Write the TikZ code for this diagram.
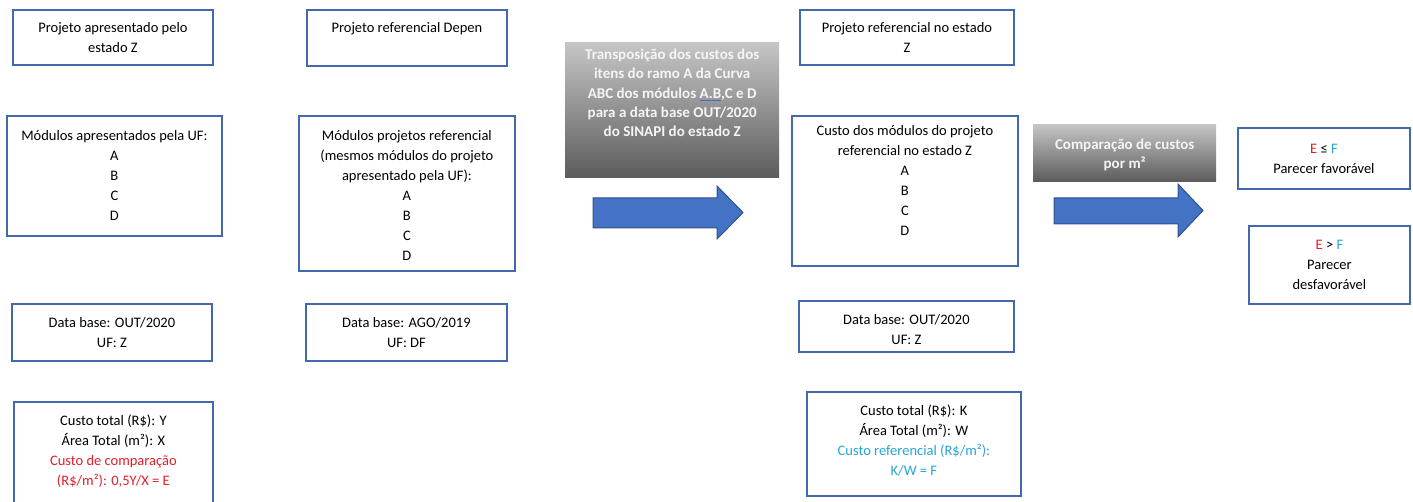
\documentclass[tikz,border=0pt]{standalone}
\usepackage{fontspec}
\setmainfont{Carlito}
\definecolor{boxblue}{RGB}{68,104,172}
\definecolor{arrowfill}{RGB}{68,114,196}
\definecolor{arrowline}{RGB}{47,82,143}
\definecolor{txtred}{RGB}{230,30,40}
\definecolor{txtcyan}{RGB}{40,165,215}
\definecolor{grayhi}{RGB}{198,198,198}
\definecolor{graylo}{RGB}{92,92,92}
\definecolor{ulblue}{RGB}{70,110,200}
\newcommand\bxt[4]{\parbox[c][#2pt][t]{#1pt}{\centering\vspace*{#3pt}\strut #4\par}}
\newcommand\bluul[1]{\setbox0\hbox{#1}\rlap{\color{ulblue}\rule[-2.5pt]{\wd0}{0.9pt}}#1}
\tikzset{
  box/.style={draw=boxblue, line width=1.8pt, fill=white, inner sep=0pt, anchor=north west,
    font=\fontsize{14.5}{20}\selectfont},
  graybox/.style={top color=grayhi, bottom color=graylo, inner sep=0pt, anchor=north west,
    text={rgb,255:red,245;green,245;blue,245}, font=\fontsize{15}{19.2}\selectfont\bfseries},
  blockarrow/.style={fill=arrowfill, draw=arrowline, line width=1pt, line join=miter}
}
\begin{document}
\begin{tikzpicture}[x=1pt,y=-1pt]
\useasboundingbox (0,0) rectangle (1413,502);
\clip (0,0) rectangle (1413,502);
% left column
\node[box] (b1) at (12,9) {\bxt{200}{55}{8.5}{Projeto apresentado pelo\\estado Z}};
\node[box] (b2) at (6,115) {\bxt{215}{120}{10.5}{Módulos apresentados pela UF:\\A\\B\\C\\D}};
\node[box] (b3) at (11,303) {\bxt{200}{57}{9.5}{Data base: OUT/2020\\UF: Z}};
\node[box] (b4) at (13,401) {\bxt{199}{125}{9.5}{Custo total (R\$): Y\\Área Total (m²): X\\{\color{txtred}Custo de comparação\\(R\$/m²): 0,5Y/X = E}}};
% middle column
\node[box] (b5) at (306,9) {\bxt{200}{56}{8.5}{Projeto referencial Depen}};
\node[box] (b6) at (298,115) {\bxt{216}{155}{10.5}{Módulos projetos referencial\\(mesmos módulos do projeto\\apresentado pela UF):\\A\\B\\C\\D}};
\node[box] (b7) at (305,303) {\bxt{201}{57}{9.5}{Data base: AGO/2019\\UF: DF}};
% first gray box and arrow
\node[graybox] (g1) at (565,42) {\bxt{214}{135}{4}{Transposição dos custos dos\\itens do ramo A da Curva\\ABC dos módulos \bluul{A.B},C e D\\para a data base OUT/2020\\do SINAPI do estado Z}};
\draw[blockarrow] (593,198) -- (717,198) -- (717,186) -- (743,212.5) -- (717,239) -- (717,228) -- (593,228) -- cycle;
% right-middle column
\node[box] (b8) at (799,9) {\bxt{214}{55}{8.5}{Projeto referencial no estado\\Z}};
\node[box] (b9) at (791,115) {\bxt{226}{150}{5.5}{Custo dos módulos do projeto\\referencial no estado Z\\A\\B\\C\\D}};
\node[box] (b10) at (798,300) {\bxt{215}{51}{9.5}{Data base: OUT/2020\\UF: Z}};
\node[box] (b11) at (806,391) {\bxt{214}{104}{9.5}{Custo total (R\$): K\\Área Total (m²): W\\{\color{txtcyan}Custo referencial (R\$/m²):\\K/W = F}}};
% second gray box and arrow
\node[graybox] (g2) at (1033,124) {\bxt{183}{57}{11.5}{Comparação de custos\\por m²}};
\draw[blockarrow] (1054,198) -- (1178,198) -- (1178,184) -- (1203,210.5) -- (1178,237) -- (1178,224) -- (1054,224) -- cycle;
% results
\node[box] (b12) at (1237,127) {\bxt{172}{61}{11.5}{{\color{txtred}E} ≤ {\color{txtcyan}F}\\Parecer favorável}};
\node[box] (b13) at (1248,225) {\bxt{161}{78}{9.5}{{\color{txtred}E} > {\color{txtcyan}F}\\Parecer\\desfavorável}};
\end{tikzpicture}
\end{document}
